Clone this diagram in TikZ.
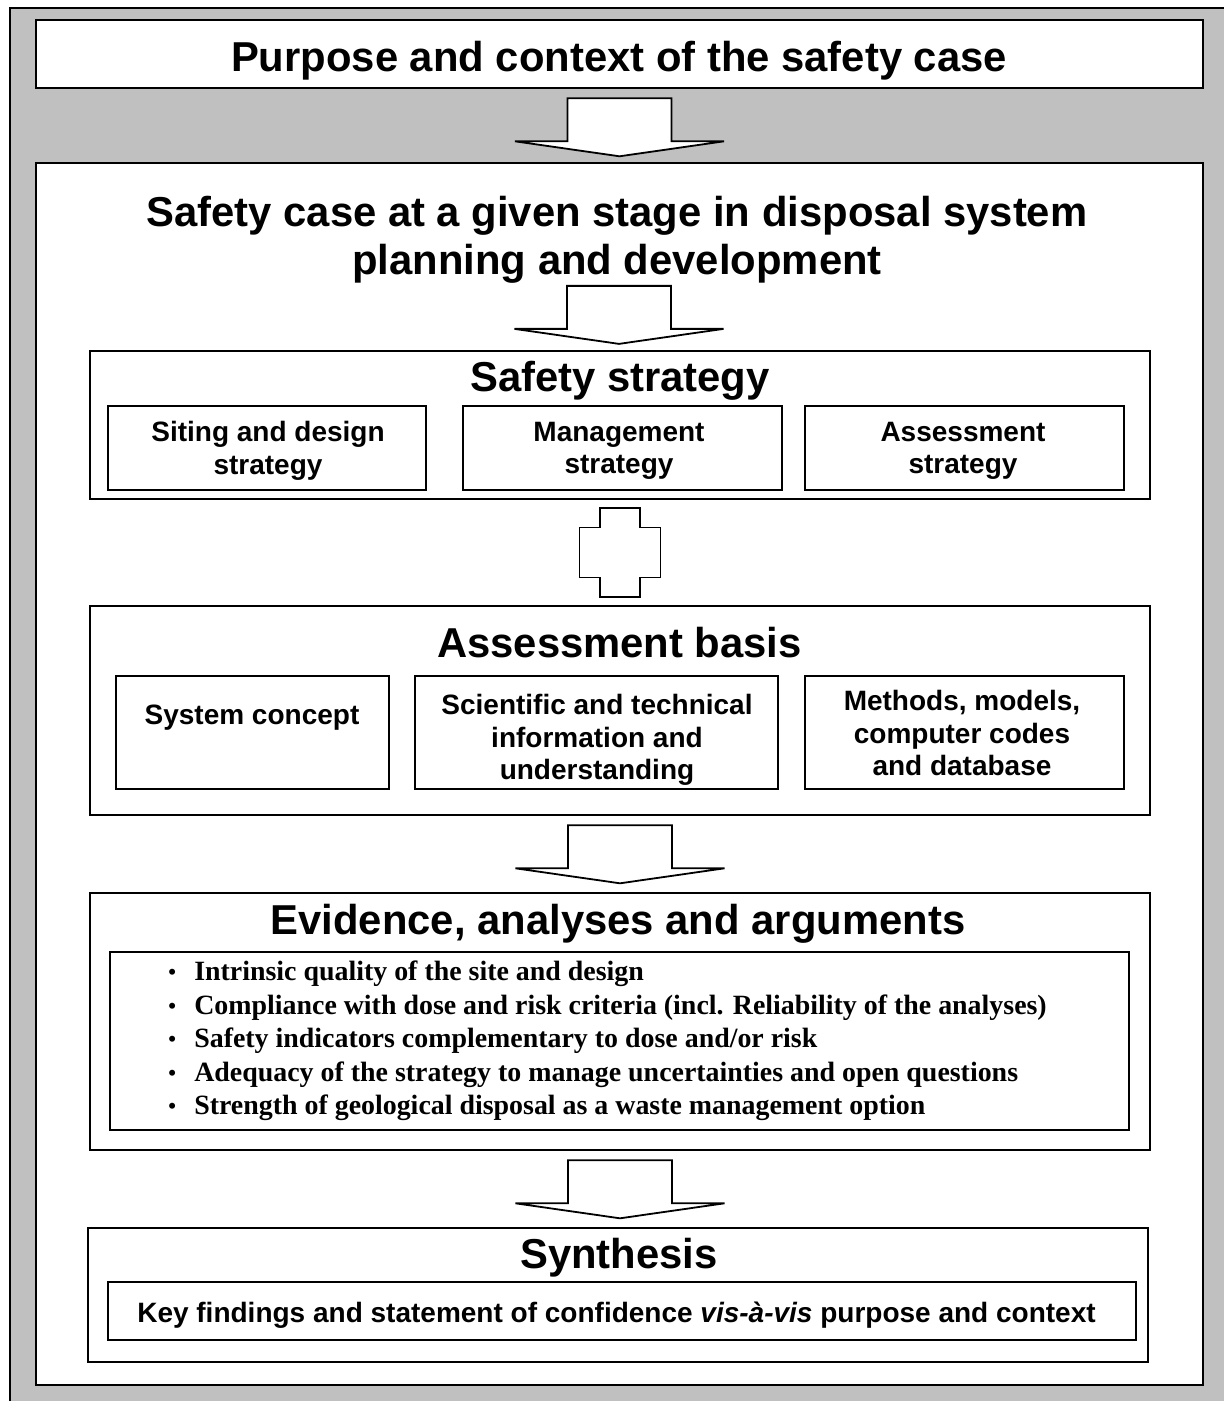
\documentclass[tikz,border=0pt]{standalone}
\usepackage{fontspec}
\setmainfont{Liberation Sans}
\newfontfamily\serifbold{Liberation Serif}
\usetikzlibrary{positioning,calc}
\definecolor{framegray}{RGB}{192,192,192}
\tikzstyle{every path}=[line width=2.6pt,line join=miter]
\tikzstyle{outerbox}=[draw,fill=white,inner sep=0pt,align=center,font=\fontsize{41.8}{48}\selectfont\bfseries]
\tikzstyle{subbox}=[draw,fill=white,inner sep=0pt,align=center,font=\fontsize{28}{32.5}\selectfont\bfseries]
\tikzstyle{subtext}=[inner sep=0pt,align=center,font=\fontsize{28}{32.5}\selectfont\bfseries]
\tikzstyle{headtext}=[inner sep=0pt,align=center,font=\fontsize{41.8}{48}\selectfont\bfseries]
\tikzstyle{blockarrow}=[draw,fill=white,line width=1.8pt]
\tikzset{
  downblock/.pic={\draw[blockarrow] (-52,0)--(52,0)--(52,43)--(104.5,43)--(0,58)--(-104.5,43)--(-52,43)--cycle;},
  plusblock/.pic={\draw[blockarrow] (-20,-44.5)--(20,-44.5)--(20,-25)--(40.5,-25)--(40.5,25)--(20,25)--(20,44.5)
    --(-20,44.5)--(-20,25)--(-40.5,25)--(-40.5,-25)--(-20,-25)--cycle;}
}
\newcommand{\evbullet}{\makebox[26pt][l]{\fontsize{22}{22}\selectfont\raisebox{1pt}{\textbullet}}}

\begin{document}
\begin{tikzpicture}[x=1pt,y=-1pt]
  \useasboundingbox (0,0) rectangle (1224,1401);
  \fill[white] (0,0) rectangle (1224,1401);
  \fill[framegray] (10,8) rectangle (1240,1420);
  \draw (10,1420)--(10,8)--(1240,8);
  \node[outerbox,minimum width=1167,minimum height=68] (purpose) at (619.5,54) {};
  \node[headtext] (purposetxt) at (619,61) {Purpose and context of the safety case};
  \node[outerbox,minimum width=1167,minimum height=1222] (stage) at (619.5,774) {};
  \node[headtext] (stagetitle) at (617,240) {Safety case at a given stage in disposal system\\planning and development};
  \pic at ($(purpose.south)+(0,9)$) {downblock};
  \pic at ($(stagetitle.south)+(2,1)$) {downblock};
  % safety strategy
  \node[outerbox,minimum width=1060,minimum height=148] (strategy) at (620,425) {};
  \node[headtext] (strategytitle) at (620,381) {Safety strategy};
  \node[subbox,minimum width=318,minimum height=84] (siting) at (267,448) {};
  \node[subbox,minimum width=319,minimum height=84] (management) at (622.5,448) {};
  \node[subbox,minimum width=319,minimum height=84] (assessment) at (964.5,448) {};
  \node[subtext] (sitingtxt) at (268,451) {Siting and design\\strategy};
  \node[subtext] (managementtxt) at (619,451) {Management\\strategy};
  \node[subtext] (assessmenttxt) at (963,451) {Assessment\\strategy};
  % assessment basis
  \node[outerbox,minimum width=1060,minimum height=209] (basis) at (620,710.5) {};
  \node[headtext] (basistitle) at (619.5,643) {Assessment basis};
  \node[subbox,minimum width=273,minimum height=113] (concept) at (252.5,732.5) {};
  \node[subbox,minimum width=363,minimum height=113] (science) at (596.5,732.5) {};
  \node[subbox,minimum width=319,minimum height=113] (methods) at (964.5,732.5) {};
  \node[subtext] (concepttxt) at (252,718) {System concept};
  \node[subtext] (sciencetxt) at (597,740) {Scientific and technical\\information and\\understanding};
  \node[subtext] (methodstxt) at (962,733) {Methods, models,\\computer codes\\and database};
  \pic at ($(strategy.south)!0.5!(basis.north)$) {plusblock};
  \pic at ($(basis.south)+(0,9)$) {downblock};
  % evidence
  \node[outerbox,minimum width=1060,minimum height=257] (evidence) at (620,1021.5) {};
  \node[headtext] (evidencetitle) at (618,924) {Evidence, analyses and arguments};
  \node[subbox,minimum width=1019,minimum height=178] (evbox) at (619.5,1041) {};
  \node[anchor=west,inner sep=0pt,font=\serifbold\fontsize{27.9}{33.5}\selectfont\bfseries] (evlist) at (167,1041) {%
    \begin{tabular}{@{}l@{}}
      \evbullet Intrinsic quality of the site and design\\
      \evbullet Compliance with dose and risk criteria (incl. Reliability of the analyses)\\
      \evbullet Safety indicators complementary to dose and/or risk\\
      \evbullet Adequacy of the strategy to manage uncertainties and open questions\\
      \evbullet Strength of geological disposal as a waste management option
    \end{tabular}};
  \pic at ($(evidence.south)+(0,9)$) {downblock};
  % synthesis
  \node[outerbox,minimum width=1060,minimum height=134] (synthesis) at (618,1295) {};
  \node[headtext] (synthesistitle) at (619,1258) {Synthesis};
  \node[subbox,minimum width=1028,minimum height=58] (keyfind) at (622,1311) {};
  \node[subtext] (keyfindtxt) at (616.5,1315) {Key findings and statement of confidence \textit{vis-à-vis} purpose and context};
\end{tikzpicture}
\end{document}
